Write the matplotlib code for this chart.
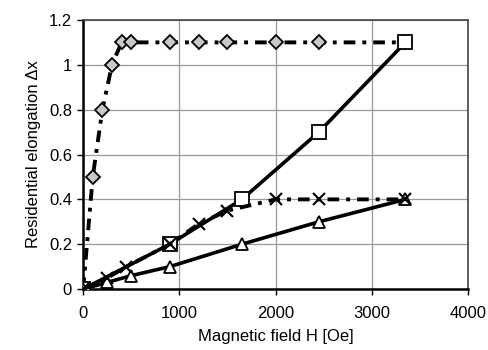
import matplotlib.pyplot as plt

plt.rcParams['font.family'] = ['Liberation Sans', 'DejaVu Sans']

# magnetic field [Oe] and residual elongation for each sample
h_diamond = [0, 100, 200, 300, 400, 500, 900, 1200, 1500, 2000, 2450, 3350]
dx_diamond = [0, 0.5, 0.8, 1.0, 1.1, 1.1, 1.1, 1.1, 1.1, 1.1, 1.1, 1.1]

h_square = [0, 900, 1650, 2450, 3350]
dx_square = [0, 0.2, 0.4, 0.7, 1.1]

h_cross = [0, 250, 450, 900, 1200, 1500, 2000, 2450, 3350]
dx_cross = [0, 0.05, 0.1, 0.2, 0.29, 0.35, 0.4, 0.4, 0.4]

h_tri = [0, 250, 500, 900, 1650, 2450, 3350]
dx_tri = [0, 0.03, 0.06, 0.1, 0.2, 0.3, 0.4]

x_ticks = [0, 1000, 2000, 3000, 4000]
y_ticks = [0, 0.2, 0.4, 0.6, 0.8, 1, 1.2]
y_labels = ['0', '0.2', '0.4', '0.6', '0.8', '1', '1.2']

fig = plt.figure(figsize=(4.89, 3.5), dpi=100)
ax = fig.add_axes([0.170, 0.174, 0.787, 0.769])

dashdot = (0, (3, 1.8, 1, 1.8))
ax.plot(h_diamond, dx_diamond, color='black', lw=2.8, linestyle=dashdot,
        marker='D', ms=7.5, mfc='#c8c8c8', mec='black', mew=1.3, zorder=3)
ax.plot(h_square, dx_square, color='black', lw=2.6, linestyle='-',
        marker='s', ms=10, mfc='white', mec='black', mew=1.3, zorder=3)
ax.plot(h_cross, dx_cross, color='black', lw=2.8, linestyle=dashdot,
        marker='x', ms=9, mec='black', mew=1.5, zorder=4)
ax.plot(h_tri, dx_tri, color='black', lw=2.6, linestyle='-',
        marker='^', ms=9, mfc='white', mec='black', mew=1.3, zorder=3)

ax.set_xlim(0, 4000)
ax.set_ylim(0, 1.2)
ax.set_xticks(x_ticks)
ax.set_yticks(y_ticks)
ax.set_yticklabels(y_labels)
ax.grid(True, color='#999999', lw=0.9)
ax.set_axisbelow(True)

for side in ['left', 'bottom']:
    ax.spines[side].set_linewidth(1.8)
for side in ['top', 'right']:
    ax.spines[side].set_linewidth(1.2)
    ax.spines[side].set_color('#444444')

ax.tick_params(axis='both', labelsize=12, direction='out', length=4, width=1)
ax.tick_params(axis='y', pad=4)
ax.tick_params(axis='x', pad=8)

ax.set_xlabel('Magnetic field H [Oe]', fontsize=12, labelpad=6)
ax.set_ylabel('Residential elongation \u0394x', fontsize=12, labelpad=6)

fig.savefig('out.png', dpi=100)
